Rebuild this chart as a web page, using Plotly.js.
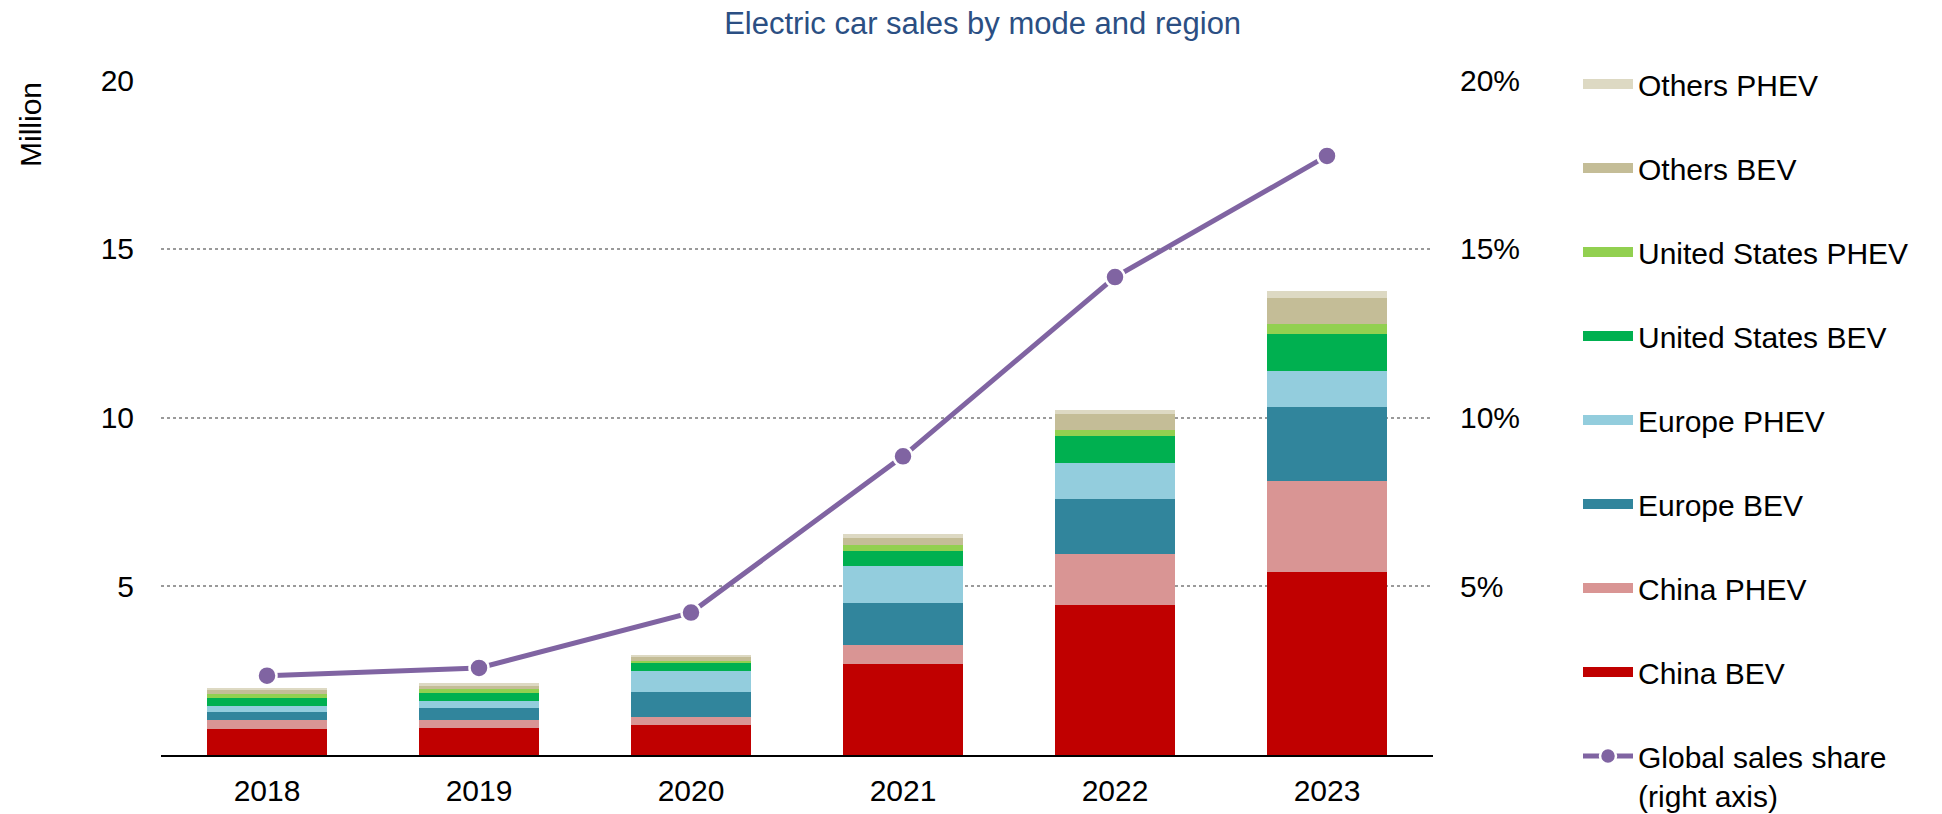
<!DOCTYPE html>
<html>
<head>
<meta charset="utf-8">
<script src="https://cdn.plot.ly/plotly-3.0.1.min.js"></script>
<style>html,body{margin:0;padding:0;background:#fff;}#chart{width:1942px;height:814px;}</style>
</head>
<body>
<div id="chart"></div>
<script>
const years = ["2018", "2019", "2020", "2021", "2022", "2023"];

const chinaBEV      = [0.78, 0.79, 0.88, 2.71, 4.43, 5.41];
const chinaPHEV     = [0.27, 0.24, 0.24, 0.55, 1.53, 2.72];
const europeBEV     = [0.21, 0.36, 0.74, 1.24, 1.62, 2.18];
const europePHEV    = [0.19, 0.21, 0.64, 1.09, 1.08, 1.06];
const usBEV         = [0.23, 0.25, 0.24, 0.46, 0.79, 1.11];
const usPHEV        = [0.12, 0.10, 0.06, 0.16, 0.17, 0.29];
const othersBEV     = [0.13, 0.10, 0.10, 0.22, 0.48, 0.78];
const othersPHEV    = [0.07, 0.07, 0.07, 0.12, 0.11, 0.20];
const globalShare   = [2.35, 2.58, 4.22, 8.85, 14.16, 17.75]; // percent

const seriesNames  = ["China BEV", "China PHEV", "Europe BEV", "Europe PHEV",
                      "United States BEV", "United States PHEV", "Others BEV", "Others PHEV"];
const seriesValues = [chinaBEV, chinaPHEV, europeBEV, europePHEV, usBEV, usPHEV, othersBEV, othersPHEV];
const seriesColors = ["#C00000", "#D99594", "#31859C", "#93CDDD",
                      "#00B050", "#92D050", "#C4BD97", "#DDD9C3"];
const lineName = "Global sales share<br>(right axis)";
const leftTickVals = [5, 10, 15, 20];
const leftTickText = ["5", "10", "15", "20"];
const rightTickText = ["5%", "10%", "15%", "20%"];

const FONT = "Liberation Sans, Arial, sans-serif";
const traces = [];
seriesNames.forEach((name, i) => {
  traces.push({
    type: "bar", x: years, y: seriesValues[i], name: name,
    marker: {color: seriesColors[i], line: {width: 0}},
    legendgroup: name, showlegend: false, hoverinfo: "x+y+name"
  });
  // legend proxy drawn as a wide swatch
  traces.push({
    type: "scatter", mode: "lines", x: [null], y: [null], name: name,
    line: {color: seriesColors[i], width: 11},
    legendgroup: name, showlegend: true, legendrank: seriesNames.length - i,
    hoverinfo: "skip"
  });
});
traces.push({
  type: "scatter", mode: "lines+markers", x: years, y: globalShare, name: lineName,
  yaxis: "y2", line: {color: "#8064A2", width: 5},
  marker: {color: "#8064A2", size: 19, line: {color: "#ffffff", width: 2.5}},
  legendgroup: "share", legendrank: 9, cliponaxis: false
});

const layout = {
  width: 1942, height: 814,
  margin: {l: 161, r: 509, t: 80, b: 59, pad: 0},
  paper_bgcolor: "#ffffff", plot_bgcolor: "#ffffff",
  font: {family: FONT, size: 30, color: "#000000"},
  barmode: "stack", bargap: 0.43,
  title: {text: "Electric car sales by mode and region", x: 0.506, xref: "container",
          xanchor: "center", y: 0.972, yref: "container", yanchor: "middle",
          font: {family: FONT, size: 31, color: "#2B4F83"}},
  xaxis: {type: "category", showline: true, linecolor: "#000000", linewidth: 2,
          showgrid: false, zeroline: false, ticks: "", ticklabelstandoff: 8,
          tickfont: {size: 30}},
  yaxis: {range: [0, 20], tickmode: "array", tickvals: leftTickVals, ticktext: leftTickText,
          showgrid: true, gridcolor: "#9A9A9A",
          griddash: "dot", gridwidth: 2, zeroline: false, showline: false,
          ticks: "", ticklabelstandoff: 26, tickfont: {size: 30}},
  yaxis2: {range: [0, 20], tickmode: "array", tickvals: leftTickVals, ticktext: rightTickText,
           overlaying: "y",
           side: "right", showgrid: false, zeroline: false, showline: false,
           ticks: "", ticklabelstandoff: 26, tickfont: {size: 30}},
  legend: {xref: "container", yref: "container", x: 1578 / 1942, xanchor: "left",
           y: 1 - 58 / 814, yanchor: "top", traceorder: "grouped", tracegroupgap: 42,
           valign: "top", font: {size: 30}, bgcolor: "rgba(0,0,0,0)", itemwidth: 50,
           maxheight: 812},
  annotations: [{text: "Million", xref: "paper", yref: "paper",
                 x: (30 - 161) / 1272, y: (755 - 125) / 675, textangle: -90,
                 showarrow: false, font: {size: 30}, xanchor: "center", yanchor: "middle"}],
  hovermode: "closest"
};

Plotly.newPlot("chart", traces, layout, {displayModeBar: false});
</script>
</body>
</html>
